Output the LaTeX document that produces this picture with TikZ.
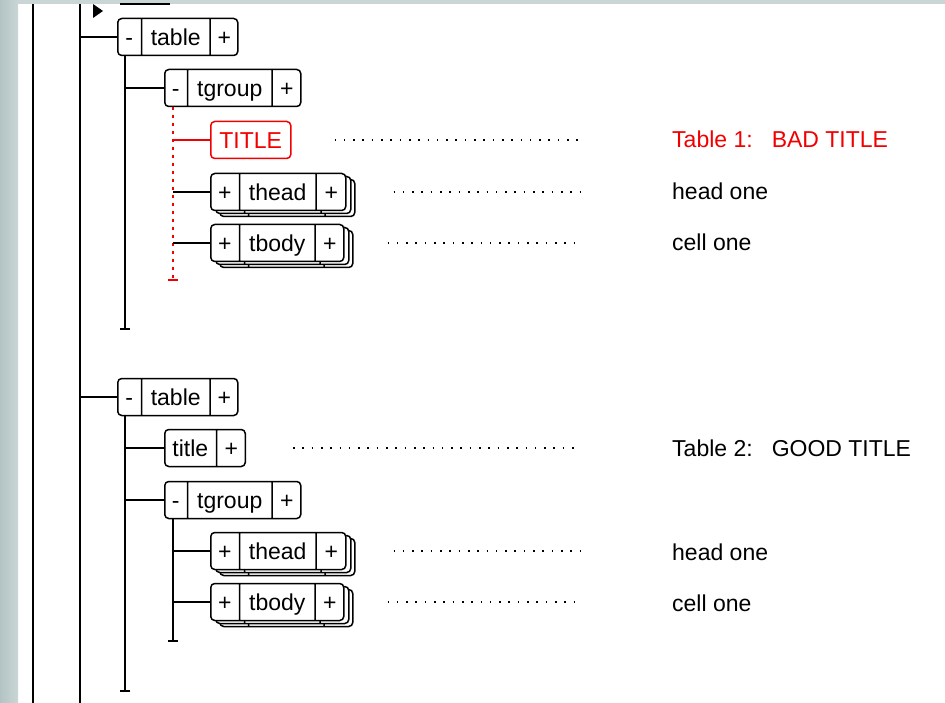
\documentclass[tikz,border=0pt]{standalone}
\usepackage{fontspec}
\setmainfont{Liberation Sans}
\usetikzlibrary{shapes.multipart, shadows, arrows.meta, calc}

\definecolor{frameDark}{HTML}{B3C3C3}
\definecolor{frameLight}{HTML}{CAD6D6}
\definecolor{badRed}{HTML}{F20000}

\newcommand{\bpart}[2]{\makebox[#1pt]{\rule[-10pt]{0pt}{37pt}#2}}

\tikzset{
  elem/.style = {rectangle split, rectangle split horizontal,
    rectangle split parts = #1, draw, line width = 1.5pt,
    rounded corners = 4pt, inner sep = 0pt, fill = white, anchor = west},
  stack/.style = {copy shadow = {shadow xshift = 9pt, shadow yshift = -6pt},
    copy shadow = {shadow xshift = 5pt, shadow yshift = -3pt}},
  tree/.style = {line width = 1.6pt},
  stem/.style = {tree, -{Bar[width = 10pt]}},
  leader/.style = {line width = 1.6pt, dash pattern = on 1.6pt off 7.7pt},
  note/.style = {anchor = base west, inner sep = 0pt}
}

\begin{document}
\begin{tikzpicture}[x = 1pt, y = -1pt, font = \fontsize{23}{27}\selectfont]
\useasboundingbox (0, 0) rectangle (945, 703);
\fill[white] (0, 0) rectangle (945, 703);
\shade[left color = frameDark, right color = frameLight] (0, 0) rectangle (18, 703);
\fill[frameLight] (18, 0) rectangle (945, 4);

\draw[tree] (33, 4) -- (33, 703);
\draw[tree] (80, 4) -- (80, 703);
\fill (93, 4) -- (103, 11) -- (93, 18) -- cycle;
\draw[tree] (120, 4) -- (170, 4);

\coordinate (dotend) at (580, 0);

\node[elem = 3] (table1) at (117, 37)
  {\bpart{23}{-}\nodepart{two}\bpart{67}{table}\nodepart{three}\bpart{27}{+}};
\node[elem = 3] (tgroup1) at (164, 88)
  {\bpart{22}{-}\nodepart{two}\bpart{83}{tgroup}\nodepart{three}\bpart{28}{+}};
\node[draw = badRed, text = badRed, line width = 1.5pt, rounded corners = 4pt,
  inner sep = 0pt, anchor = west] (TITLE) at (210, 140) {\bpart{80}{TITLE}};
\node[elem = 3, stack] (thead1) at (210, 192)
  {\bpart{28}{+}\nodepart{two}\bpart{75}{thead}\nodepart{three}\bpart{29}{+}};
\node[elem = 3, stack] (tbody1) at (210, 243)
  {\bpart{28}{+}\nodepart{two}\bpart{74}{tbody}\nodepart{three}\bpart{28}{+}};

\node[elem = 3] (table2) at (117, 397)
  {\bpart{23}{-}\nodepart{two}\bpart{67}{table}\nodepart{three}\bpart{27}{+}};
\node[elem = 2] (title2) at (164, 448)
  {\bpart{51}{title}\nodepart{two}\bpart{28}{+}};
\node[elem = 3] (tgroup2) at (164, 500)
  {\bpart{22}{-}\nodepart{two}\bpart{83}{tgroup}\nodepart{three}\bpart{28}{+}};
\node[elem = 3, stack] (thead2) at (210, 551)
  {\bpart{28}{+}\nodepart{two}\bpart{75}{thead}\nodepart{three}\bpart{29}{+}};
\node[elem = 3, stack] (tbody2) at (210, 602)
  {\bpart{28}{+}\nodepart{two}\bpart{74}{tbody}\nodepart{three}\bpart{28}{+}};

\coordinate (s1) at ([xshift = 8pt]table1.south west);
\coordinate (s2) at ([xshift = 9pt]tgroup1.south west);
\coordinate (s3) at ([xshift = 8pt]table2.south west);
\coordinate (s4) at ([xshift = 9pt]tgroup2.south west);

\draw[stem] (s1) -- (s1 |- 0, 330);
\draw[stem, badRed, dash pattern = on 3pt off 5pt] (s2) -- (s2 |- 0, 281);
\draw[stem] (s3) -- (s3 |- 0, 692);
\draw[stem] (s4) -- (s4 |- 0, 642);

\draw[tree] (80, 0 |- table1.west) -- (table1.west);
\draw[tree] (s1 |- tgroup1.west) -- (tgroup1.west);
\draw[tree, badRed] (s2 |- TITLE.west) -- (TITLE.west);
\draw[tree] (s2 |- thead1.west) -- (thead1.west);
\draw[tree] (s2 |- tbody1.west) -- (tbody1.west);

\draw[tree] (80, 0 |- table2.west) -- (table2.west);
\draw[tree] (s3 |- title2.west) -- (title2.west);
\draw[tree] (s3 |- tgroup2.west) -- (tgroup2.west);
\draw[tree] (s4 |- thead2.west) -- (thead2.west);
\draw[tree] (s4 |- tbody2.west) -- (tbody2.west);

\node[note, text = badRed] (lbl1) at (672, 148) {Table 1:\hspace{19pt}BAD TITLE};
\node[note] (head1) at (672, 200) {head one};
\node[note] (cell1) at (672, 251) {cell one};
\node[note] (lbl2) at (672, 456) {Table 2:\hspace{19pt}GOOD TITLE};
\node[note] (head2) at (672, 560) {head one};
\node[note] (cell2) at (672, 611) {cell one};

\draw[leader] ([xshift = 43pt]TITLE.east) -- (dotend |- TITLE.east);
\draw[leader] ([xshift = 47pt]thead1.east) -- (dotend |- thead1.east);
\draw[leader] ([xshift = 43pt]tbody1.east) -- (dotend |- tbody1.east);
\draw[leader] ([xshift = 47pt]title2.east) -- (dotend |- title2.east);
\draw[leader] ([xshift = 47pt]thead2.east) -- (dotend |- thead2.east);
\draw[leader] ([xshift = 43pt]tbody2.east) -- (dotend |- tbody2.east);
\end{tikzpicture}
\end{document}
